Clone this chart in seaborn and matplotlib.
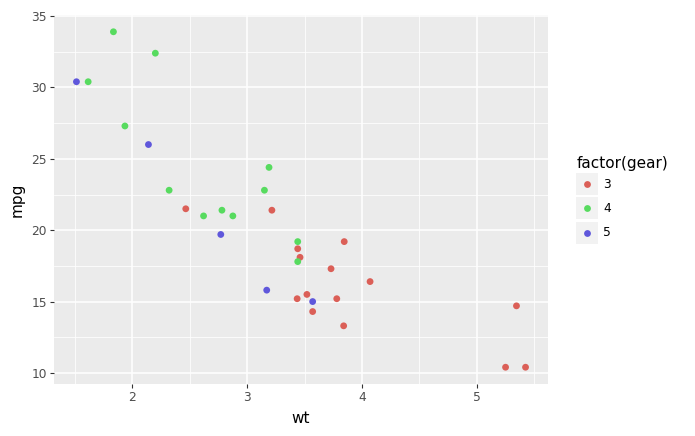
import colorsys
import matplotlib
matplotlib.use("Agg")
import matplotlib.pyplot as plt
from matplotlib.patches import Rectangle
from matplotlib.lines import Line2D
from matplotlib.ticker import MultipleLocator
import numpy as np
import pandas as pd
import seaborn as sns

wt = [2.620, 2.875, 2.320, 3.215, 3.440, 3.460, 3.570, 3.190, 3.150, 3.440, 3.440,
      4.070, 3.730, 3.780, 5.250, 5.424, 5.345, 2.200, 1.615, 1.835, 2.465, 3.520,
      3.435, 3.840, 3.845, 1.935, 2.140, 1.513, 3.170, 2.770, 3.570, 2.780]
mpg = [21.0, 21.0, 22.8, 21.4, 18.7, 18.1, 14.3, 24.4, 22.8, 19.2, 17.8,
       16.4, 17.3, 15.2, 10.4, 10.4, 14.7, 32.4, 30.4, 33.9, 21.5, 15.5,
       15.2, 13.3, 19.2, 27.3, 26.0, 30.4, 15.8, 19.7, 15.0, 21.4]
gear = [4, 4, 4, 3, 3, 3, 3, 4, 4, 4, 4,
        3, 3, 3, 3, 3, 3, 4, 4, 4, 3, 3,
        3, 3, 3, 4, 5, 5, 5, 5, 5, 4]
gear_levels = ["3", "4", "5"]
x_ticks = [2, 3, 4, 5]
y_ticks = [10, 15, 20, 25, 30, 35]

hues = [0.01 + i / 3 for i in range(3)]
palette = [colorsys.hls_to_rgb(h % 1, 0.6, 0.65) for h in hues]
pal = dict(zip(gear_levels, palette))

df = pd.DataFrame({"wt": wt, "mpg": mpg, "gear": [str(g) for g in gear]})

W, H = 695, 436
fig = plt.figure(figsize=(W / 100, H / 100), dpi=100)
ax = fig.add_axes([54 / W, 1 - 384 / H, (548 - 54) / W, (384 - 15) / H])
ax.set_facecolor("#EBEBEB")

sns.scatterplot(data=df, x="wt", y="mpg", hue="gear", hue_order=gear_levels,
                palette=pal, s=24, linewidth=0, legend=False, ax=ax, zorder=3)

xr = max(wt) - min(wt)
yr = max(mpg) - min(mpg)
ax.set_xlim(min(wt) - 0.05 * xr, max(wt) + 0.05 * xr)
ax.set_ylim(min(mpg) - 0.05 * yr, max(mpg) + 0.05 * yr)
ax.set_xticks(x_ticks)
ax.set_yticks(y_ticks)
ax.xaxis.set_minor_locator(MultipleLocator(0.5))
ax.yaxis.set_minor_locator(MultipleLocator(2.5))
ax.grid(which="major", color="white", linewidth=1.1, zorder=1)
ax.grid(which="minor", color="white", linewidth=0.55, zorder=1)
ax.set_axisbelow(True)
for s in ax.spines.values():
    s.set_visible(False)
ax.tick_params(which="major", length=3, width=0.8, color="#333333",
               labelcolor="#4D4D4D", labelsize=8.8, pad=2)
ax.tick_params(which="minor", length=0)
ax.set_xlabel("wt", fontsize=11, labelpad=5)
ax.set_ylabel("mpg", fontsize=11, labelpad=5)

# legend
fig.text(577 / W, 1 - 163 / H, "factor(gear)", fontsize=11, ha="left", va="center")
for i, lev in enumerate(gear_levels):
    y0 = 173 + i * 24.5
    fig.add_artist(Rectangle((576 / W, 1 - (y0 + 22) / H), 22 / W, 22 / H,
                             transform=fig.transFigure, facecolor="#F2F2F2",
                             edgecolor="none"))
    fig.add_artist(Line2D([587 / W], [1 - (y0 + 11) / H], marker="o",
                          markersize=4.9, markeredgewidth=0, color=pal[lev],
                          linestyle="none", transform=fig.transFigure))
    fig.text(603 / W, 1 - (y0 + 11) / H, lev, fontsize=8.8, ha="left", va="center")

fig.savefig("out.png", dpi=100)
